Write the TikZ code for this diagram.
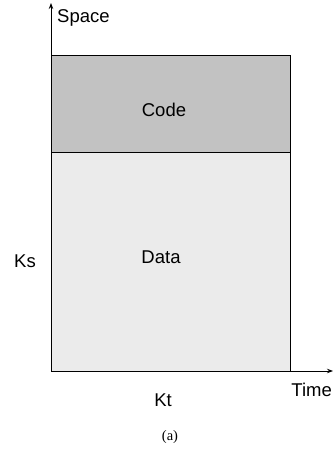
\documentclass[tikz,border=0pt]{standalone}
\usepackage{fontspec}
\setmainfont{Liberation Sans}
\newfontfamily\capfont{Liberation Serif}
\usetikzlibrary{arrows.meta}
\tikzset{
  axis/.style={line width=1pt,-{Stealth[length=6pt,width=4.5pt]}},
  lbl/.style={font=\fontsize{18.5}{18.5}\selectfont,inner sep=0pt},
  region/.style={draw=black,line width=0.8pt},
}
\begin{document}
\begin{tikzpicture}[x=1pt,y=-1pt]
\useasboundingbox (0,0) rectangle (333,449);
% stored regions
\fill[gray!48] (51,55) rectangle (290,152);
\fill[gray!16] (51,152) rectangle (290,371);
\draw[region] (51,371) -- (51,55) -- (290,55) -- (290,371);
\draw[region] (51,152) -- (290,152);
% axes
\coordinate (o) at (51,371);
\coordinate (ytop) at (51,3);
\coordinate (xend) at (333,371);
\draw[axis] (o) -- (ytop);
\draw[axis] (o) -- (xend);
% labels
\node[lbl,anchor=west] (space) at (57,18) {Space};
\node[lbl] (code) at (164,110) {Code};
\node[lbl] (data) at (161,257) {Data};
\node[lbl] (ks) at (25,261) {Ks};
\node[lbl,anchor=east] (time) at (332,390) {Time};
\node[lbl] (kt) at (163,400) {Kt};
\node[inner sep=0pt,font=\capfont\fontsize{14.5}{14.5}\selectfont] (cap) at (170,437) {(a)};
\end{tikzpicture}
\end{document}
